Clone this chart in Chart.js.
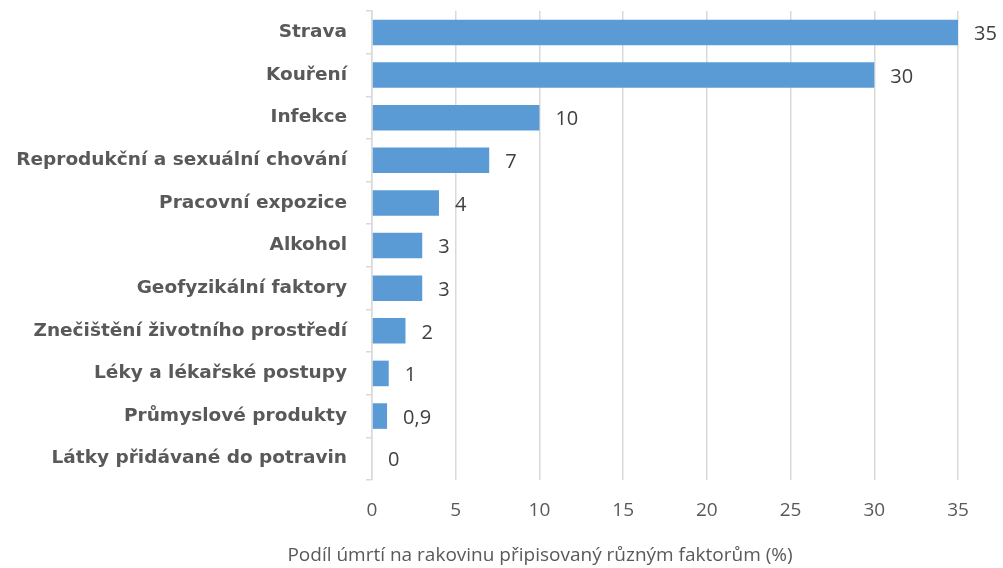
<!DOCTYPE html>
<html>
<head>
<meta charset="utf-8">
<script src="https://cdn.jsdelivr.net/npm/chart.js@4/dist/chart.umd.min.js"></script>
<style>
  html, body { margin: 0; padding: 0; background: #fff; }
  #wrap { width: 1003px; height: 568px; position: relative; }
</style>
</head>
<body>
<div id="wrap"><canvas id="chart"></canvas></div>
<script>
// kategorie a hodnoty (v %)
const categories = [
    'Strava', 'Kouření', 'Infekce', 'Reprodukční a sexuální chování',
    'Pracovní expozice', 'Alkohol', 'Geofyzikální faktory',
    'Znečištění životního prostředí', 'Léky a lékařské postupy',
    'Průmyslové produkty', 'Látky přidávané do potravin'
];
const values = [35, 30, 10, 7, 4, 3, 3, 2, 1, 0.9, 0];
const xTicks = [0, 5, 10, 15, 20, 25, 30, 35];
const xTitle = 'Podíl úmrtí na rakovinu připisovaný různým faktorům (%)';

const fmt = v => String(v).replace('.', ',');

// popisky hodnot za koncem sloupců + název osy x
const labelPlugin = {
    id: 'labels',
    afterDatasetsDraw(chart) {
        const ctx = chart.ctx;
        const meta = chart.getDatasetMeta(0);
        ctx.save();
        ctx.font = '20px "Open Sans"';
        ctx.fillStyle = '#404040';
        ctx.textAlign = 'left';
        ctx.textBaseline = 'middle';
        meta.data.forEach((bar, i) => {
            ctx.fillText(fmt(values[i]), bar.x + 16, bar.y + 2);
        });
        ctx.font = '19px "Open Sans"';
        ctx.fillStyle = '#595959';
        ctx.textAlign = 'center';
        ctx.fillText(xTitle, 540, 556);
        ctx.restore();
    }
};

new Chart(document.getElementById('chart'), {
    type: 'bar',
    data: {
        labels: categories,
        datasets: [{
            data: values,
            backgroundColor: '#5b9bd5',
            borderColor: '#5b9bd5',
            borderWidth: 0,
            categoryPercentage: 1,
            barPercentage: 0.6
        }]
    },
    options: {
        indexAxis: 'y',
        responsive: true,
        maintainAspectRatio: false,
        animation: false,
        layout: { padding: { top: 5, right: 45, left: 0, bottom: 0 } },
        plugins: { legend: { display: false }, tooltip: { enabled: false } },
        scales: {
            x: {
                min: 0, max: 35,
                afterBuildTicks: s => { s.ticks = xTicks.map(v => ({ value: v })); },
                afterFit: s => { s.height = 88; },
                grid: { color: '#d9d9d9', lineWidth: 1.5, drawTicks: false },
                border: { display: false },
                ticks: { color: '#595959', font: { family: 'Open Sans', size: 19 }, padding: 19 }
            },
            y: {
                afterFit: s => { s.width = 372; },
                // dlouhé značky, ale viditelný jen krátký konec u osy
                grid: {
                    offset: true, drawOnChartArea: false, color: '#d9d9d9', lineWidth: 1.5,
                    tickLength: 25, tickBorderDash: [0, 19, 10, 0]
                },
                border: { display: true, color: '#d9d9d9', width: 1.5 },
                ticks: { color: '#595959', font: { family: 'DejaVu Sans', size: 18.5, weight: 'bold' }, padding: 0 }
            }
        }
    },
    plugins: [labelPlugin]
});
</script>
</body>
</html>
